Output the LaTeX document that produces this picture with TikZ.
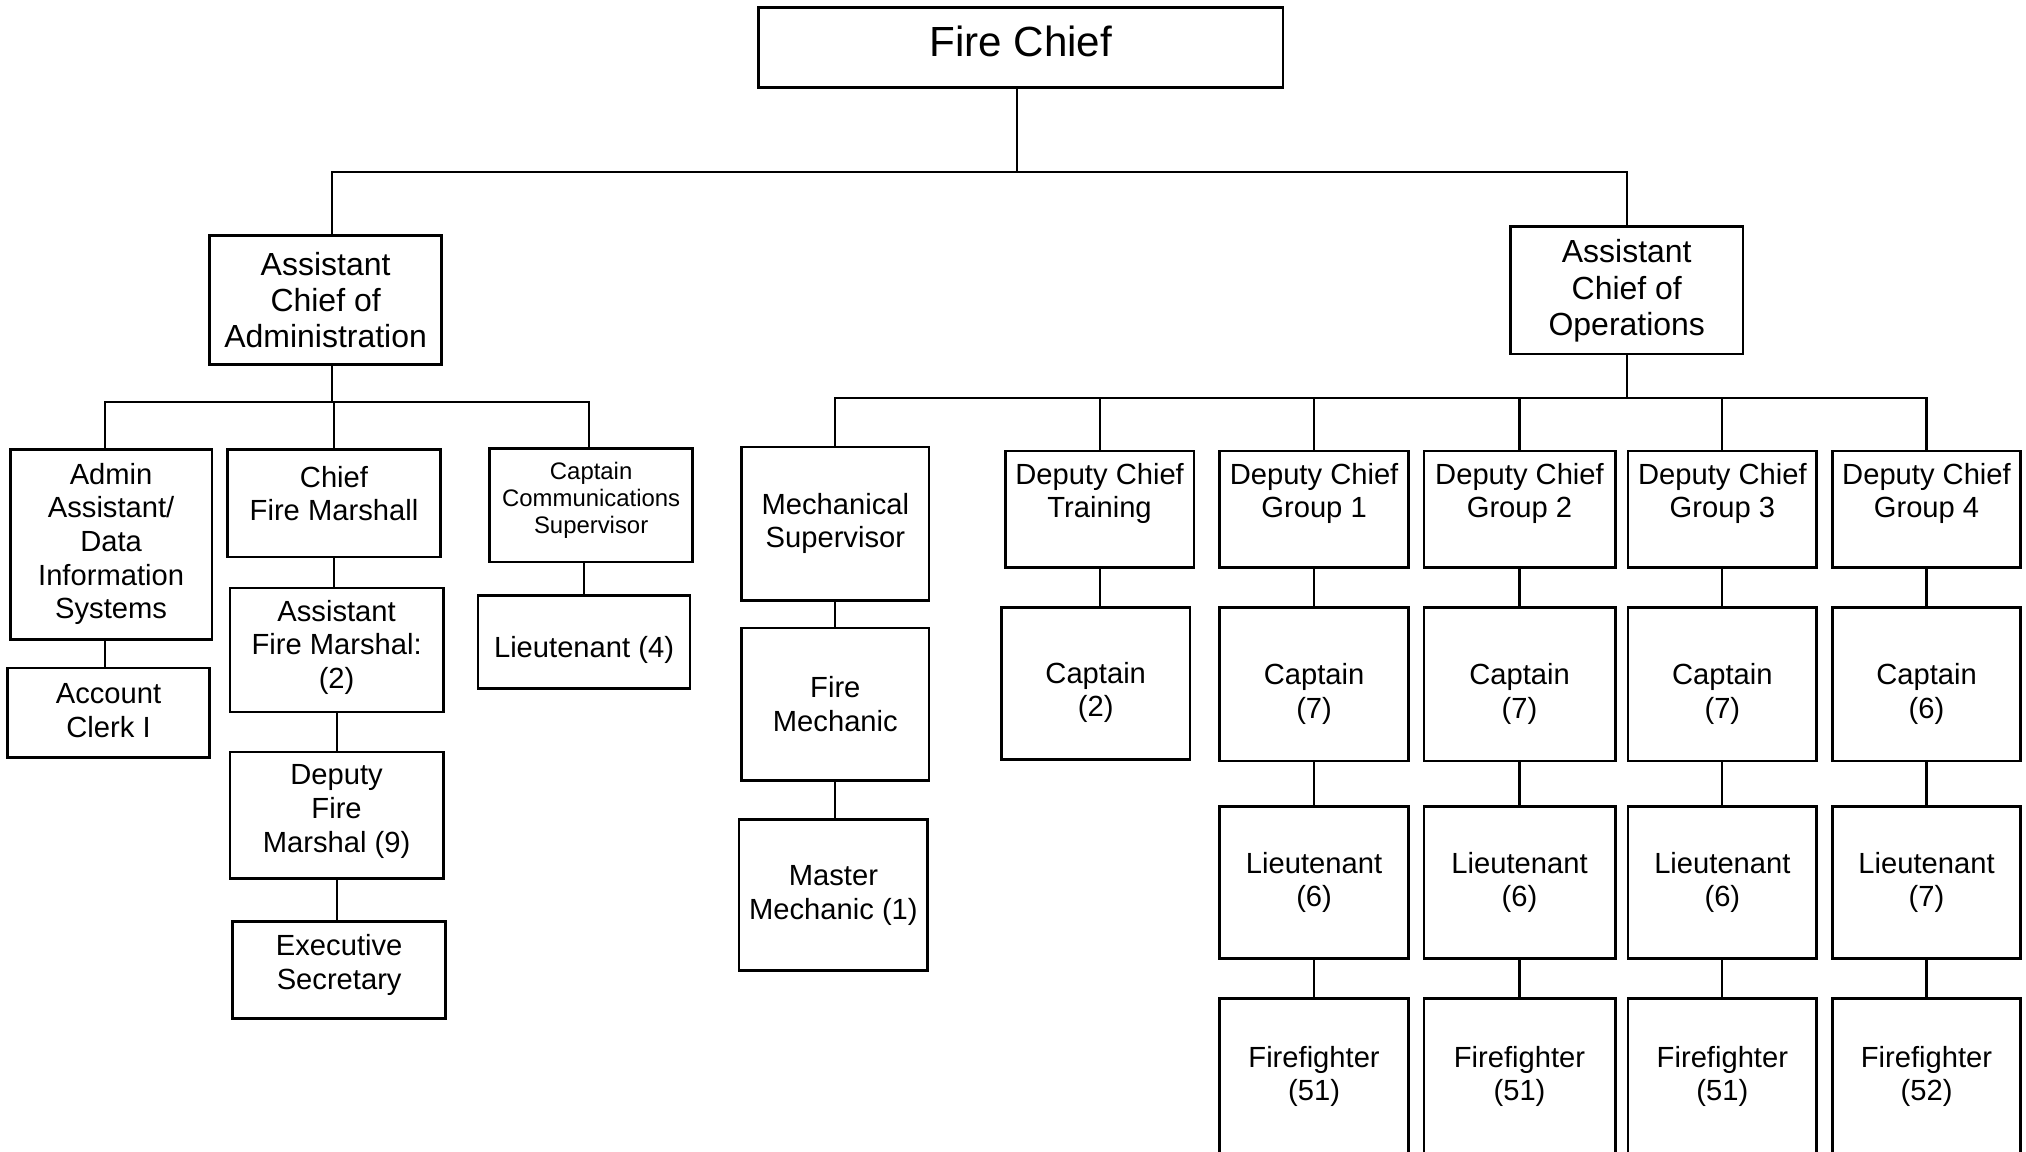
\documentclass[tikz,border=0pt]{standalone}
\usepackage{fontspec}
\setmainfont{Liberation Sans}
\usetikzlibrary{fit}

% \orgbox[text style]{name}{x1}{y1}{x2}{y2}{text centre y}{text}
\newcommand\orgbox[8][lbl]{%
  \node[unitbox, fit={(#3,#4) (#5,#6)}] (#2) {};
  \node[#1] (#2-t) at ({(#3+#5)/2},{#7}) {#8};}

\begin{document}
\begin{tikzpicture}[x=0.012921cm, y=-0.012921cm,
  unitbox/.style={draw, line width=0.8pt, inner sep=0pt},
  link/.style={line width=0.6pt},
  lbl/.style={align=center, inner sep=0pt, font=\fontsize{8.3}{9.55}\selectfont},
  biglbl/.style={align=center, inner sep=0pt, font=\fontsize{9.1}{10.3}\selectfont},
  smalllbl/.style={align=center, inner sep=0pt, font=\fontsize{6.8}{7.7}\selectfont},
  headlbl/.style={align=center, inner sep=0pt, font=\fontsize{12}{14}\selectfont}]
\useasboundingbox (0,0) rectangle (1568,891);
\clip (0,0) rectangle (1568,891);

% top level
\orgbox[headlbl]{fc}{587}{6}{993}{68}{32}{Fire Chief}
\orgbox[biglbl]{aca}{162}{182}{342}{282}{232}{Assistant\\Chief of\\Administration}
\orgbox[biglbl]{aco}{1169}{175}{1349}{274}{225}{Assistant\\Chief of\\Operations}

% administration branch
\orgbox{aa}{8}{348}{164}{495}{421}{Admin\\Assistant/\\Data\\Information\\Systems}
\orgbox{acl}{6}{517}{162}{586}{550}{Account\\Clerk I}
\orgbox{cfm}{176}{348}{341}{431}{382}{Chief\\Fire Marshall}
\orgbox{afm}{178}{455}{343}{551}{501}{Assistant\\Fire Marshal:\\(2)}
\orgbox{dfm}{178}{582}{343}{680}{628}{Deputy\\Fire\\Marshal (9)}
\orgbox{exs}{180}{713}{345}{788}{747}{Executive\\Secretary}
\orgbox[smalllbl]{ccs}{379}{347}{536}{435}{387}{Captain\\Communications\\Supervisor}
\orgbox{cl}{370}{461}{534}{533}{503}{Lieutenant (4)}

% operations branch
\orgbox{ms}{574}{346}{719}{465}{405}{Mechanical\\Supervisor}
\orgbox{fm}{574}{486}{719}{604}{545}{Fire\\Mechanic}
\orgbox{mm}{572}{634}{718}{751}{693}{Master\\Mechanic (1)}
\orgbox{dct}{778}{349}{924}{439}{382}{Deputy Chief\\Training}
\orgbox{ct}{775}{470}{921}{588}{536}{Captain\\(2)}

% shift groups
\foreach \g/\xa/\xb/\nc/\nl/\nf in
  {1/944/1090/7/6/51, 2/1102/1250/7/6/51, 3/1260/1406/7/6/51, 4/1418/1564/6/7/52}{
  \orgbox{dc\g}{\xa}{349}{\xb}{439}{382}{Deputy Chief\\Group \g}
  \orgbox{cap\g}{\xa}{470}{\xb}{589}{537}{Captain\\(\nc)}
  \orgbox{lt\g}{\xa}{624}{\xb}{742}{683}{Lieutenant\\(\nl)}
  \orgbox{ff\g}{\xa}{773}{\xb}{895}{833}{Firefighter\\(\nf)}
}

% connectors
\coordinate (topbus) at (0,133);
\coordinate (adminbus) at (0,311);
\coordinate (opsbus) at (0,308);

\draw[link] ([xshift=-0.039cm]fc.south) -- ([xshift=-0.039cm]fc.south |- topbus);
\draw[link] ([xshift=0.065cm]aca.north) -- ([xshift=0.065cm]aca.north |- topbus)
  -- (aco.north |- topbus) -- (aco.north);

\draw[link] ([xshift=0.065cm]aca.south) -- ([xshift=0.065cm]aca.south |- adminbus);
\draw[link] ([xshift=-0.065cm]aa.north) -- ([xshift=-0.065cm]aa.north |- adminbus)
  -- ([xshift=-0.02cm]ccs.north |- adminbus) -- ([xshift=-0.02cm]ccs.north);
\draw[link] (cfm.north) -- (cfm.north |- adminbus);
\draw[link] ([xshift=-0.065cm]aa.south) -- ([xshift=-0.065cm]aa.south |- acl.north);
\draw[link] (cfm.south) -- (cfm.south |- afm.north);
\draw[link] (afm.south) -- (afm.south |- dfm.north);
\draw[link] (dfm.south) -- (dfm.south |- exs.north);
\draw[link] ([xshift=-0.07cm]ccs.south) -- ([xshift=-0.07cm]ccs.south |- cl.north);

\draw[link] (aco.south) -- (aco.south |- opsbus);
\draw[link] (ms.north) -- (ms.north |- opsbus) -- (dc4.north |- opsbus) -- (dc4.north);
\foreach \n in {dct, dc1, dc2, dc3}
  \draw[link] (\n.north) -- (\n.north |- opsbus);
\draw[link] (ms.south) -- (ms.south |- fm.north);
\draw[link] (fm.south) -- (fm.south |- mm.north);
\draw[link] (dct.south) -- (dct.south |- ct.north);
\foreach \g in {1,...,4}{
  \draw[link] (dc\g.south) -- (dc\g.south |- cap\g.north);
  \draw[link] (cap\g.south) -- (cap\g.south |- lt\g.north);
  \draw[link] (lt\g.south) -- (lt\g.south |- ff\g.north);
}
\end{tikzpicture}
\end{document}
